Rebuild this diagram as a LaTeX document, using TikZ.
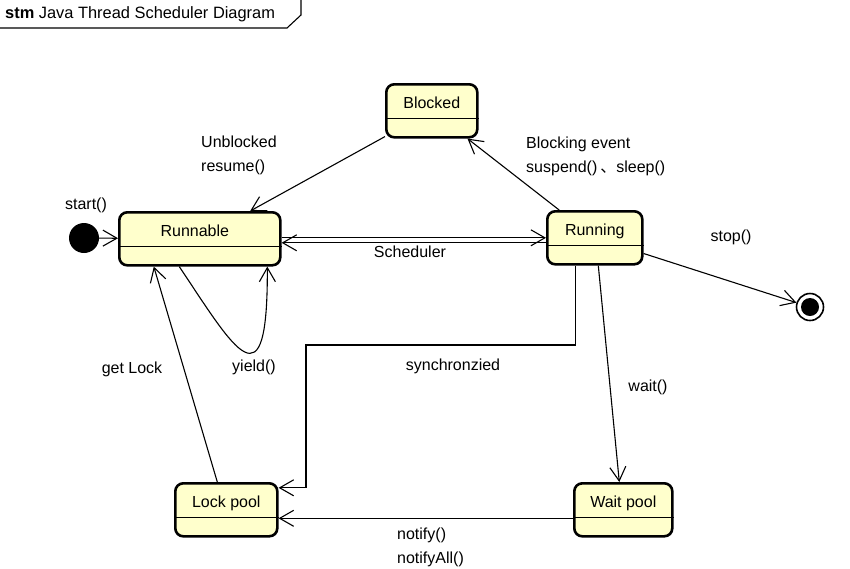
\documentclass[tikz,border=0pt]{standalone}
\usepackage{fontspec}
\setmainfont{Liberation Sans}
\newfontfamily\cjk{Noto Sans CJK SC}
\usetikzlibrary{arrows.meta}
\definecolor{stateyellow}{RGB}{255,255,204}

\begin{document}
\begin{tikzpicture}[x=1pt, y=-1pt,
    font=\fontsize{16}{24}\selectfont,
    state/.style={draw, line width=2.6pt, rounded corners=8pt, fill=stateyellow,
        anchor=north west, inner ysep=0pt, text height=24pt, text depth=29pt},
    pseudo/.style={circle, inner sep=0pt},
    trans/.style={-{Straight Barb[length=14pt, width=16pt]}, line width=1.1pt},
    lbl/.style={inner sep=1pt}]
    \useasboundingbox (0,0) rectangle (850,568);

    % frame
    \node[anchor=west, inner sep=0pt] (title) at (5,14) {\fontsize{16.4}{24}\selectfont\textbf{stm} Java Thread Scheduler Diagram};
    \draw[line width=1.1pt] (0,28) -- (287,28) -- (301,15) -- (301,0);

    % states
    \node[state, minimum width=91pt] (blocked) at (385,83) {Blocked};
    \node[state, minimum width=161pt] (runnable) at (118,211) {Runnable\hspace{10pt}\mbox{}};
    \node[state, minimum width=95pt] (running) at (546,210) {Running};
    \node[state, minimum width=102pt] (lockpool) at (174,482) {Lock pool};
    \node[state, minimum width=98pt] (waitpool) at (573,482) {Wait pool};
    \foreach \s in {blocked,runnable,running,lockpool,waitpool}
        \draw[line width=1.1pt] ([yshift=-10.5pt]\s.base west) -- ([yshift=-10.5pt]\s.base east);

    \node[pseudo, fill, minimum size=30pt] (init) at (84,238) {};
    \node[pseudo, draw, line width=1.6pt, minimum size=27pt] (final) at (810,307) {};
    \fill (final.center) circle[radius=9pt];

    % transitions
    \draw[trans] (init) -- (runnable);
    \draw[trans] (blocked) -- (runnable);
    \draw[trans] (running) -- (blocked);
    \draw[trans] ([yshift=1pt]runnable.east) -- ([yshift=1pt]runnable.east -| running.west);
    \draw[trans] ([yshift=-4pt]runnable.east -| running.west) -- ([yshift=-4pt]runnable.east);
    \draw[trans] ([xshift=-20.5pt]runnable.south) .. controls (235,350) and (268,410) .. ([xshift=67.5pt]runnable.south);
    \draw[trans] ([xshift=-9pt]lockpool.north) -- ([xshift=-46pt]runnable.south);
    \coordinate (syncbend) at (306,345);
    \draw[trans] ([xshift=-19.5pt]running.south) |- (syncbend) |- ([yshift=22pt]lockpool.east);
    \draw[trans] ([xshift=3.5pt]running.south) -- ([xshift=-4pt]waitpool.north);
    \draw[trans] (running) -- (final);
    \draw[trans] ([yshift=-8.5pt]waitpool.west) -- ([yshift=-8.5pt]waitpool.west -| lockpool.east);

    % labels
    \node[lbl] (startlbl) at (86,205) {start()};
    \node[lbl, align=left, anchor=west] (unblocklbl) at (200,155) {Unblocked\\resume()};
    \node[lbl, align=left, anchor=west] (blocklbl) at (525,156) {Blocking event\\suspend()\hspace{3pt}{\cjk 、}sleep()};
    \node[lbl] (schedlbl) at (410,252) {Scheduler};
    \node[lbl] (stoplbl) at (731,237) {stop()};
    \node[lbl] (yieldlbl) at (254,367) {yield()};
    \node[lbl] (getlocklbl) at (132,369) {get Lock};
    \node[lbl] (synclbl) at (453,366) {synchronzied};
    \node[lbl] (waitlbl) at (648,387) {wait()};
    \node[lbl, align=left, anchor=west] (notifylbl) at (396,547) {notify()\\notifyAll()};
\end{tikzpicture}
\end{document}
